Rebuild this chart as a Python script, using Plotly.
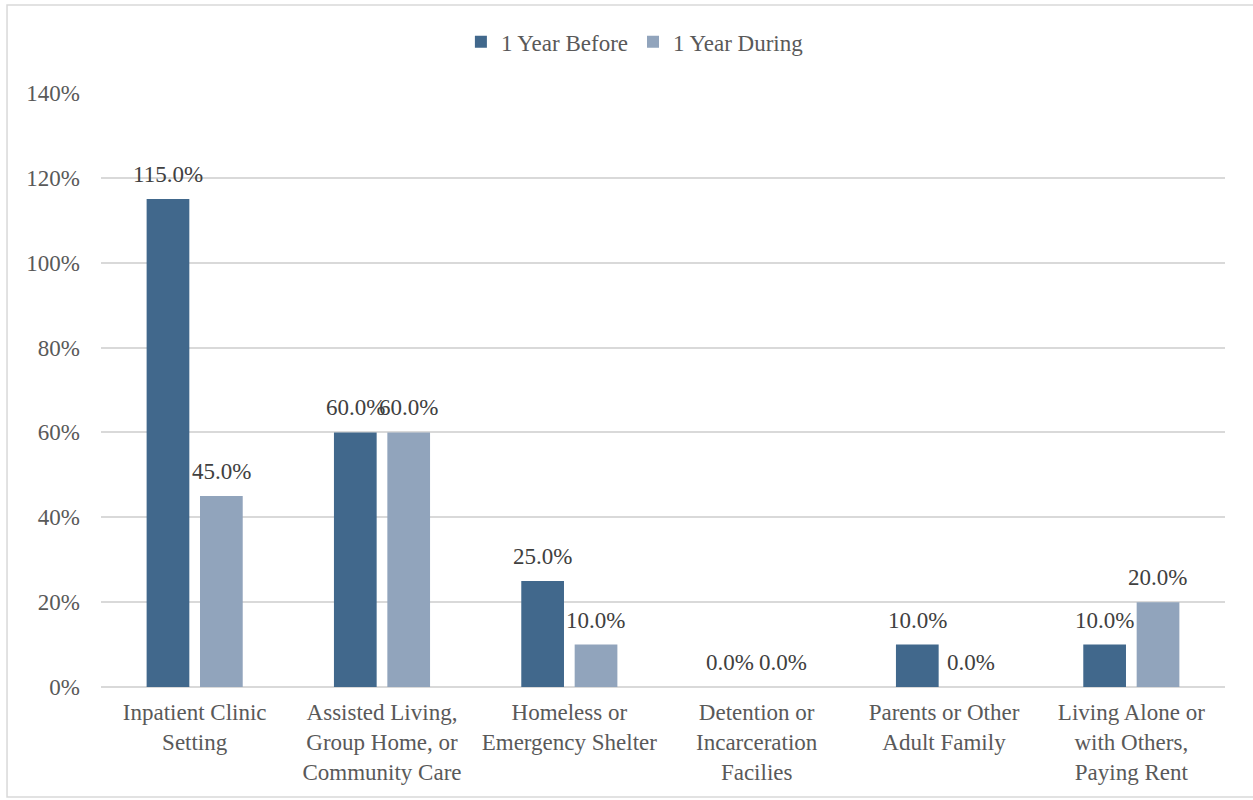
import plotly.graph_objects as go

categories = [
    "Inpatient Clinic<br>Setting",
    "Assisted Living,<br>Group Home, or<br>Community Care",
    "Homeless or<br>Emergency Shelter",
    "Detention or<br>Incarceration<br>Facilies",
    "Parents or Other<br>Adult Family",
    "Living Alone or<br>with Others,<br>Paying Rent",
]
year_before = [115.0, 60.0, 25.0, 0.0, 10.0, 10.0]
year_during = [45.0, 60.0, 10.0, 0.0, 0.0, 20.0]
y_ticks = [0, 20, 40, 60, 80, 100, 120, 140]

FONT = "Liberation Serif"
TXT = "#595959"
SIZE = 23

series = [
    ("1 Year Before", year_before, "#41688c", -26.5),
    ("1 Year During", year_during, "#91a4bc", 26.5),
]

fig = go.Figure()
for name, vals, color, shift in series:
    fig.add_trace(go.Bar(
        name=name, x=categories, y=vals,
        marker=dict(color=color, line=dict(width=0)),
    ))
    # value labels sitting above each bar
    for cat, v in zip(categories, vals):
        fig.add_annotation(
            x=cat, y=v, xref="x", yref="y", text=f"{v:.1f}%",
            showarrow=False, yanchor="bottom", xanchor="center",
            xshift=shift, yshift=10,
            font=dict(family=FONT, size=SIZE, color="#404040"),
        )

fig.update_layout(
    width=1253, height=800,
    margin=dict(l=101, r=28, t=93, b=113, autoexpand=False),
    paper_bgcolor="white", plot_bgcolor="white",
    barmode="group", bargap=0.43, bargroupgap=0.2,
    font=dict(family=FONT, size=SIZE, color=TXT),
    legend=dict(orientation="h", x=0.475, xanchor="center", y=1.086, yanchor="middle",
                font=dict(family=FONT, size=SIZE, color=TXT),
                bgcolor="rgba(0,0,0,0)", itemwidth=30),
    showlegend=True,
)
fig.update_yaxes(range=[0, 140], tickvals=y_ticks, ticktext=[f"{t}%" for t in y_ticks],
                 showgrid=True, gridcolor="#d9d9d9", gridwidth=1.5,
                 zeroline=True, zerolinecolor="#d9d9d9", zerolinewidth=1.5,
                 ticks="", ticklabelstandoff=20,
                 tickfont=dict(family=FONT, size=SIZE, color=TXT),
                 showline=False)
fig.update_xaxes(showline=False, ticks="", tickangle=0, ticklabelstandoff=9,
                 tickfont=dict(family=FONT, size=SIZE, color=TXT))

# chart outline
fig.add_shape(type="rect", xref="paper", yref="paper",
              x0=-0.0836, x1=1.0276, y0=-0.185, y1=1.148,
              line=dict(color="#d9d9d9", width=1.5), fillcolor="rgba(0,0,0,0)", layer="below")

fig.write_html("out.html")
